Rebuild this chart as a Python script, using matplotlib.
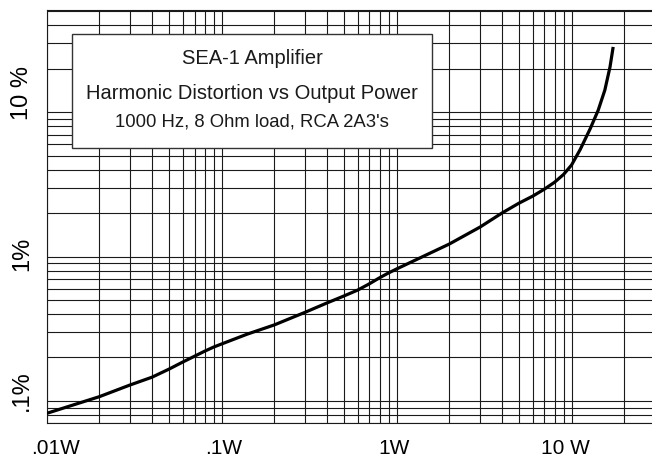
import numpy as np
import matplotlib.pyplot as plt
from matplotlib.patches import Rectangle
from matplotlib.transforms import ScaledTranslation

plt.rcParams['font.family'] = ['Liberation Sans', 'DejaVu Sans']

# Ausgangsleistung (W) und Klirrfaktor (%)
power = [0.01, 0.02, 0.03, 0.04, 0.05, 0.06, 0.07, 0.08, 0.09, 0.1, 0.14, 0.2,
         0.3, 0.4, 0.5, 0.6, 0.7, 0.8, 0.9, 1.0, 2, 3, 4, 5, 6, 7, 8, 9, 10,
         11.2, 12.8, 14.2, 15.5, 16.6, 17.3]
thd = [0.082, 0.107, 0.129, 0.146, 0.166, 0.186, 0.204, 0.221, 0.236, 0.248, 0.29, 0.336,
       0.411, 0.477, 0.533, 0.586, 0.648, 0.713, 0.77, 0.82, 1.22, 1.6, 2.0, 2.34, 2.62,
       2.93, 3.27, 3.7, 4.3, 5.5, 7.7, 10.3, 14.2, 20.6, 28.3]

xticks = [0.01, 0.1, 1, 10]
xlabels = [".01W", ".1W", "1W", "10 W"]
yticks = [0.1, 1, 10]
ylabels = [".1%", "1%", "10 %"]

title_lines = ["SEA-1 Amplifier",
               "Harmonic Distortion vs Output Power",
               "1000 Hz, 8 Ohm load, RCA 2A3's"]

fig = plt.figure(figsize=(6.52, 4.58), dpi=100)
ax = fig.add_axes([0.0716, 0.0758, 0.933, 0.9024])

ax.plot(power, thd, color="black", linewidth=2.3, zorder=5,
        solid_capstyle="butt", solid_joinstyle="round")

ax.set_xscale("log")
ax.set_yscale("log")
ax.set_xlim(0.01, 30)
ax.set_ylim(0.07, 51)

ax.grid(True, which="both", color="#1a1a1a", linewidth=0.8)
ax.set_axisbelow(True)
for s in ax.spines.values():
    s.set_color("#1a1a1a")
    s.set_linewidth(0.8)

ax.set_xticks(xticks)
ax.set_xticklabels(xlabels, fontsize=15)
ax.set_yticks(yticks)
ax.set_yticklabels(ylabels, fontsize=17, rotation=90, va="center")
ax.tick_params(which="both", length=0)
ax.tick_params(axis="x", pad=11)
ax.tick_params(axis="y", pad=10)

# kleine Verschiebungen der Beschriftungen (Pixel)
xshift = [9, 2, -3, -6]
for lab, dx in zip(ax.get_xticklabels(), xshift):
    lab.set_transform(lab.get_transform() + ScaledTranslation(dx / 100, 0, fig.dpi_scale_trans))
yshift = [10, 3, 19]
for lab, dy in zip(ax.get_yticklabels(), yshift):
    lab.set_transform(lab.get_transform() + ScaledTranslation(0, dy / 100, fig.dpi_scale_trans))

# Titelkasten
box = Rectangle((0.0411, 0.665), 0.593, 0.276, transform=ax.transAxes,
                facecolor="white", edgecolor="#333333", linewidth=1.0, zorder=3)
ax.add_patch(box)
ax.text(0.3375, 0.883, title_lines[0], transform=ax.transAxes, ha="center", va="center",
        fontsize=14.5, color="#1a1a1a", zorder=4)
ax.text(0.3375, 0.798, title_lines[1], transform=ax.transAxes, ha="center", va="center",
        fontsize=14.5, color="#1a1a1a", zorder=4)
ax.text(0.3375, 0.730, title_lines[2], transform=ax.transAxes, ha="center", va="center",
        fontsize=13.3, color="#1a1a1a", zorder=4)

plt.savefig("out.png", dpi=100)
